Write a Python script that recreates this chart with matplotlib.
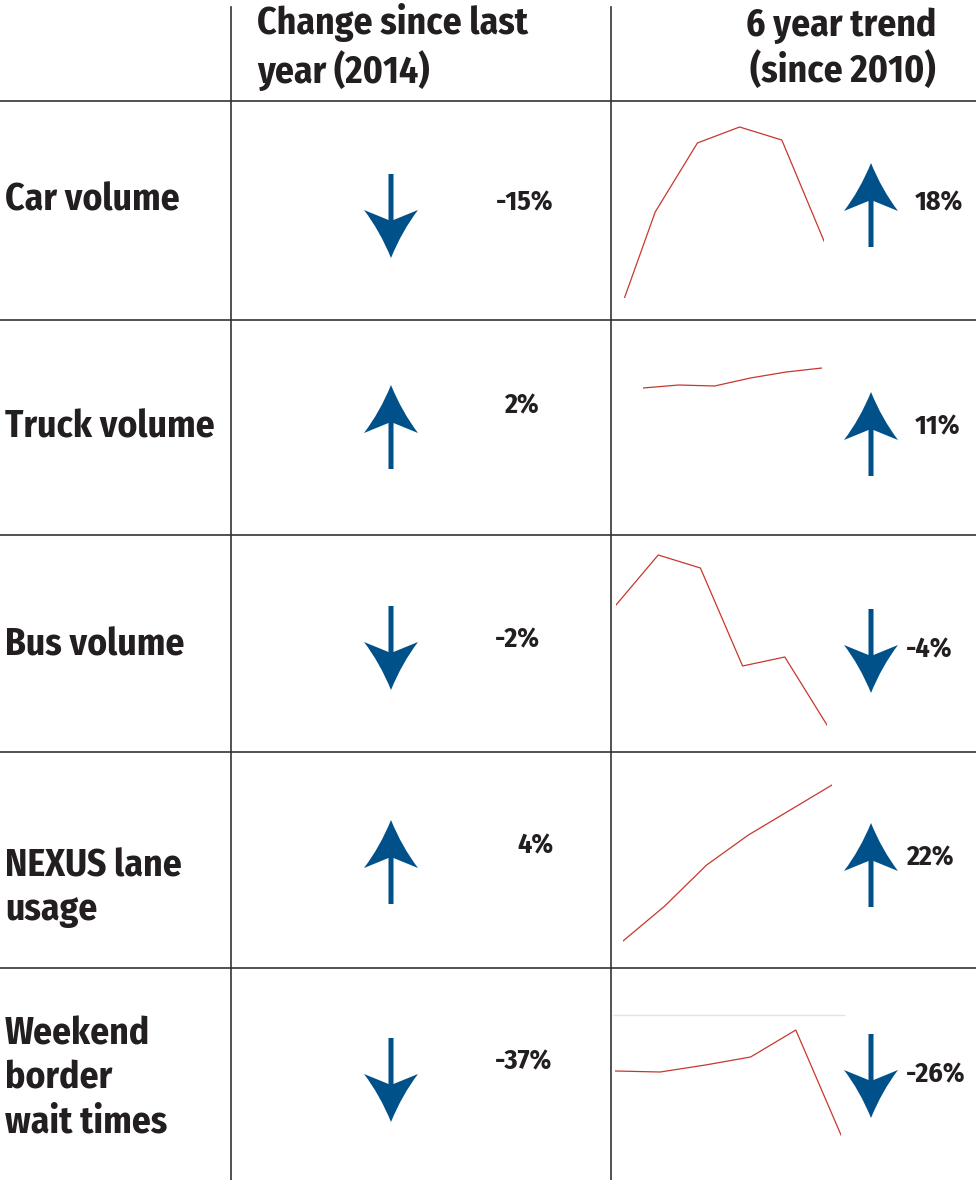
import matplotlib
matplotlib.use("Agg")
import matplotlib.pyplot as plt
from matplotlib import font_manager
from matplotlib.path import Path
from matplotlib.patches import PathPatch

# data
rows = ["Car volume", "Truck volume", "Bus volume", "NEXUS lane\nusage",
        "Weekend\nborder\nwait times"]
change_2014 = [-15, 2, -2, 4, -37]
trend_6yr = [18, 11, -4, 22, -26]
years = [2010, 2011, 2012, 2013, 2014, 2015]
# sparkline values (relative scale)
car_trend = [-32, 86, 155, 171, 158, 57]
truck_trend = [147, 150, 149, 157, 163, 167]
bus_trend = [147, 197, 184, 86, 95, 27]
nexus_trend = [27, 62, 103, 133, 158, 183]
wait_trend = [109, 108, 115, 123, 150, 45]
trends = [car_trend, truck_trend, bus_trend, nexus_trend, wait_trend]

# layout (pixels)
W, H = 976, 1180
row_top = [101, 320, 535, 752, 968]
row_bot = [320, 535, 752, 968, 1180]
label_y = [200, 427, 645, 888, 1078]
spark_x = [(613, 824), (643, 822), (616, 827), (623, 832), (615, 841)]
spark_bot = [298, 535, 752, 968, 1180]
arrow1_tip = [258, 385, 690, 820, 1122]
arrow2_tip = [163, 392, 693, 823, 1118]
pct1_pos = [(525, 203), (521, 406), (517, 640), (535, 846), (524, 1062)]
pct2_pos = [(915, 203), (915, 427), (906, 650), (906, 858), (906, 1075)]

BLUE = "#00518a"
RED = "#c8372d"
TXT = "#231f20"
LINE = "#333333"

# pick a condensed bold face if one is installed
installed = {f.name for f in font_manager.fontManager.ttflist}
FONT = "DejaVu Sans"
for cand in ["Fira Sans Condensed", "PT Sans Narrow", "Roboto Condensed",
		"Open Sans Condensed", "Archivo Narrow", "Liberation Sans Narrow"]:
	if cand in installed:
		FONT = cand
		break

fig = plt.figure(figsize=(W / 100, H / 100), dpi=100)
ax = fig.add_axes([0, 0, 1, 1])
ax.set_xlim(0, W)
ax.set_ylim(H, 0)
ax.axis("off")


def arrow(cx, tip, up):
	s = -1 if up else 1
	verts = [
		(cx - 2.5, tip - s * 84), (cx - 2.5, tip - s * 38), (cx - 27, tip - s * 48),
		(cx - 11, tip - s * 27), (cx, tip),
		(cx + 11, tip - s * 27), (cx + 27, tip - s * 48),
		(cx + 2.5, tip - s * 38), (cx + 2.5, tip - s * 84), (cx - 2.5, tip - s * 84),
	]
	codes = [Path.MOVETO, Path.LINETO, Path.LINETO,
		Path.CURVE3, Path.CURVE3,
		Path.CURVE3, Path.CURVE3,
		Path.LINETO, Path.LINETO, Path.CLOSEPOLY]
	ax.add_patch(PathPatch(Path(verts, codes), facecolor=BLUE, edgecolor="none"))


# grid lines
ax.plot([0, W], [101, 101], color=LINE, lw=1.2)
for y in row_bot[:-1]:
	ax.plot([0, W], [y, y], color=LINE, lw=1.2)
for x in [231, 611]:
	ax.plot([x, x], [7, H], color=LINE, lw=1.2)

# header
ax.text(257, 47, "Change since last\nyear (2014)", ha="left", va="center",
	fontsize=27, fontweight="bold", color=TXT, family=FONT, linespacing=1.25)
ax.text(936, 49, "6 year trend\n(since 2010)", ha="right", va="center",
	fontsize=27, fontweight="bold", color=TXT, family=FONT, linespacing=1.22)

for i, name in enumerate(rows):
	ax.text(5, label_y[i], name, ha="left", va="center", fontsize=27,
		fontweight="bold", color=TXT, family=FONT, linespacing=1.24)

	arrow(391, arrow1_tip[i], change_2014[i] > 0)
	arrow(871, arrow2_tip[i], trend_6yr[i] > 0)
	x, y = pct1_pos[i]
	ax.text(x, y, f"{change_2014[i]}%", ha="center", va="center", fontsize=20,
		fontweight="bold", color=TXT, family=FONT)
	x, y = pct2_pos[i]
	ax.text(x, y, f"{trend_6yr[i]}%", ha="left", va="center", fontsize=20,
		fontweight="bold", color=TXT, family=FONT)

	# sparkline
	x0, x1 = spark_x[i]
	top, bot = row_top[i], spark_bot[i]
	sax = fig.add_axes([x0 / W, 1 - bot / H, (x1 - x0) / W, (bot - top) / H])
	sax.plot(years, trends[i], color=RED, lw=0.9)
	sax.set_xlim(years[0], years[-1])
	sax.set_ylim(0, bot - top)
	sax.axis("off")

# faint rule above the wait-time sparkline
ax.plot([613, 844], [1015, 1015], color="#e3e3e3", lw=1)

fig.savefig("out.png", dpi=100)
